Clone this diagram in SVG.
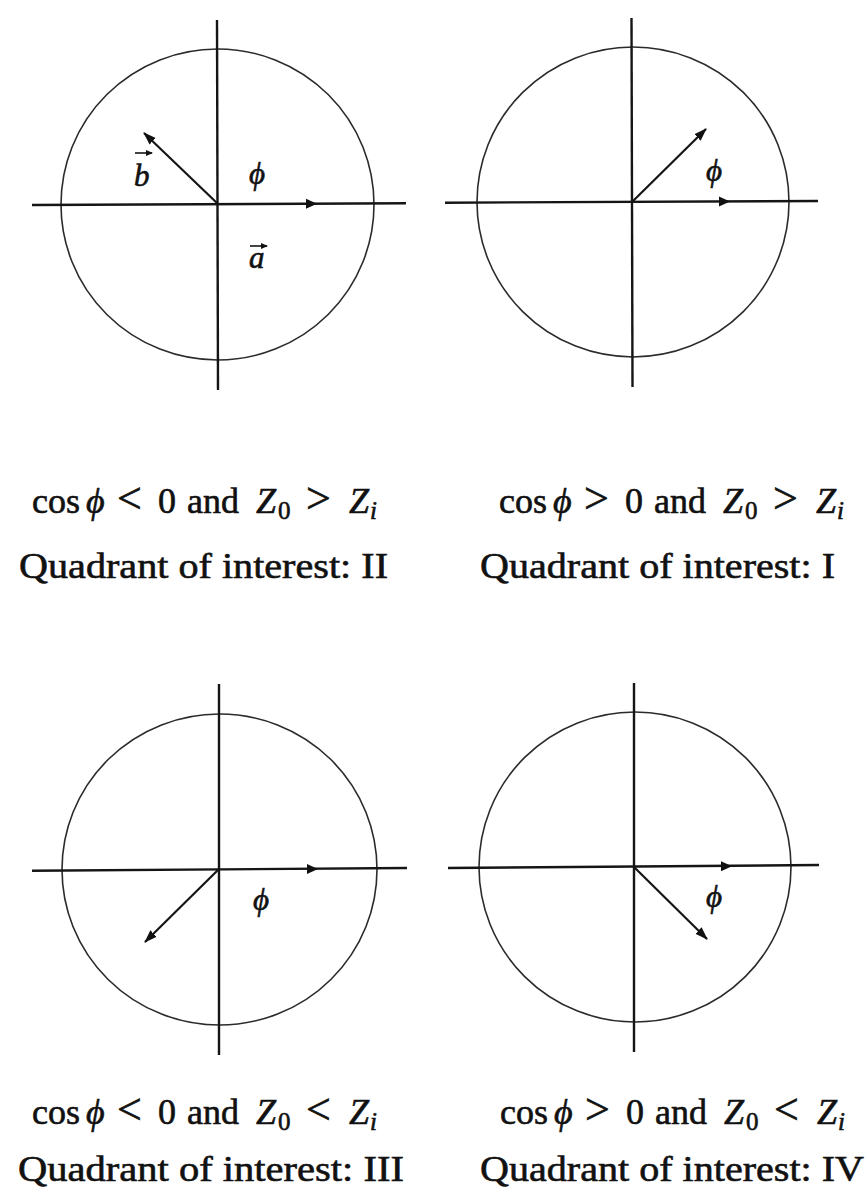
<svg xmlns="http://www.w3.org/2000/svg" width="868" height="1192" viewBox="0 0 868 1192">
<style>
.ax{stroke:#151515;stroke-width:2.4;fill:none;stroke-linecap:butt}
.cir{stroke:#2b2b2b;stroke-width:1.6;fill:none}
.vec{stroke:#151515;stroke-width:2.2;fill:none;marker-end:url(#vh)}
.accl{stroke:#151515;stroke-width:1.6;fill:none;marker-end:url(#acch)}
.head{fill:#111}
.t{font-family:"Liberation Serif","Times New Roman",serif;fill:#111;stroke:#111;stroke-width:0.6}
.it{font-style:italic}
.cap{font-size:36px}
.rel{font-size:44px}
.sub{font-size:25px}
.lab{font-size:31px;font-style:italic}
</style>
<defs>
<marker id="vh" markerUnits="userSpaceOnUse" markerWidth="14" markerHeight="10" refX="12" refY="5" orient="auto">
<path d="M0,0.5 L13,5 L0,9.5 z" fill="#111"/>
</marker>
<marker id="acch" markerUnits="userSpaceOnUse" markerWidth="7" markerHeight="6" refX="6" refY="3" orient="auto">
<path d="M0,0 L7,3 L0,6 z" fill="#111"/>
</marker>
<path id="ah" d="M-11,-5 L0,0 L-11,5 z"/>
</defs>
<rect width="868" height="1192" fill="#fff"/>

<g id="panel-1">
<ellipse class="cir" cx="217.5" cy="204.5" rx="156.5" ry="155.5"/>
<line class="ax" x1="217" y1="20" x2="218" y2="390"/>
<line class="ax" x1="32" y1="205" x2="406" y2="203.3"/>
<use href="#ah" class="head" x="317" y="203.8"/>
<line class="vec" x1="218" y1="204" x2="144" y2="133"/>
<text class="t lab" x="134" y="186">b</text>
<line class="accl" x1="135" y1="153" x2="152" y2="153"/>
<text class="t lab" x="249" y="184">ϕ</text>
<text class="t lab" x="249" y="268">a</text>
<line class="accl" x1="250" y1="246" x2="267" y2="246"/>
</g>

<g id="panel-2">
<ellipse class="cir" cx="633" cy="202" rx="156" ry="155"/>
<line class="ax" x1="631.5" y1="18" x2="632.5" y2="387"/>
<line class="ax" x1="445" y1="202.7" x2="818" y2="201"/>
<use href="#ah" class="head" x="730" y="201.6"/>
<line class="vec" x1="632" y1="202" x2="706" y2="129"/>
<text class="t lab" x="706" y="181">ϕ</text>
</g>

<g id="panel-3">
<ellipse class="cir" cx="219.5" cy="869.5" rx="157.5" ry="155.5"/>
<line class="ax" x1="219" y1="684" x2="219" y2="1055"/>
<line class="ax" x1="32" y1="870.7" x2="407" y2="868"/>
<use href="#ah" class="head" x="318" y="869"/>
<line class="vec" x1="219" y1="869" x2="145" y2="942"/>
<text class="t lab" x="253" y="910">ϕ</text>
</g>

<g id="panel-4">
<ellipse class="cir" cx="635" cy="867" rx="156" ry="155"/>
<line class="ax" x1="634" y1="683" x2="634" y2="1052"/>
<line class="ax" x1="448" y1="868" x2="819" y2="865"/>
<use href="#ah" class="head" x="732" y="866.3"/>
<line class="vec" x1="634" y1="867" x2="707" y2="939"/>
<text class="t lab" x="706" y="907">ϕ</text>
</g>

<g id="caption-1">
<text class="t cap" y="513"><tspan x="32">cos</tspan><tspan x="86" class="it">ϕ</tspan><tspan x="117" class="rel">&lt;</tspan><tspan x="158">0</tspan><tspan x="187">and</tspan><tspan x="256" class="it">Z</tspan><tspan x="278" dy="6" class="sub">0</tspan><tspan x="306" dy="-6" class="rel">&gt;</tspan><tspan x="349" class="it">Z</tspan><tspan x="370" dy="6" class="sub it">i</tspan></text>
<text class="t cap" x="19" y="578" textLength="369" lengthAdjust="spacingAndGlyphs">Quadrant of interest: II</text>
</g>

<g id="caption-2">
<text class="t cap" y="513"><tspan x="499">cos</tspan><tspan x="553" class="it">ϕ</tspan><tspan x="584" class="rel">&gt;</tspan><tspan x="625">0</tspan><tspan x="654">and</tspan><tspan x="723" class="it">Z</tspan><tspan x="745" dy="6" class="sub">0</tspan><tspan x="773" dy="-6" class="rel">&gt;</tspan><tspan x="816" class="it">Z</tspan><tspan x="837" dy="6" class="sub it">i</tspan></text>
<text class="t cap" x="480" y="578" textLength="355" lengthAdjust="spacingAndGlyphs">Quadrant of interest: I</text>
</g>

<g id="caption-3">
<text class="t cap" y="1124"><tspan x="32">cos</tspan><tspan x="86" class="it">ϕ</tspan><tspan x="117" class="rel">&lt;</tspan><tspan x="158">0</tspan><tspan x="187">and</tspan><tspan x="256" class="it">Z</tspan><tspan x="278" dy="6" class="sub">0</tspan><tspan x="306" dy="-6" class="rel">&lt;</tspan><tspan x="349" class="it">Z</tspan><tspan x="370" dy="6" class="sub it">i</tspan></text>
<text class="t cap" x="18" y="1181" textLength="386" lengthAdjust="spacingAndGlyphs">Quadrant of interest: III</text>
</g>

<g id="caption-4">
<text class="t cap" y="1124"><tspan x="500">cos</tspan><tspan x="554" class="it">ϕ</tspan><tspan x="585" class="rel">&gt;</tspan><tspan x="626">0</tspan><tspan x="655">and</tspan><tspan x="724" class="it">Z</tspan><tspan x="746" dy="6" class="sub">0</tspan><tspan x="774" dy="-6" class="rel">&lt;</tspan><tspan x="817" class="it">Z</tspan><tspan x="838" dy="6" class="sub it">i</tspan></text>
<text class="t cap" x="480" y="1181" textLength="384" lengthAdjust="spacingAndGlyphs">Quadrant of interest: IV</text>
</g>
</svg>
